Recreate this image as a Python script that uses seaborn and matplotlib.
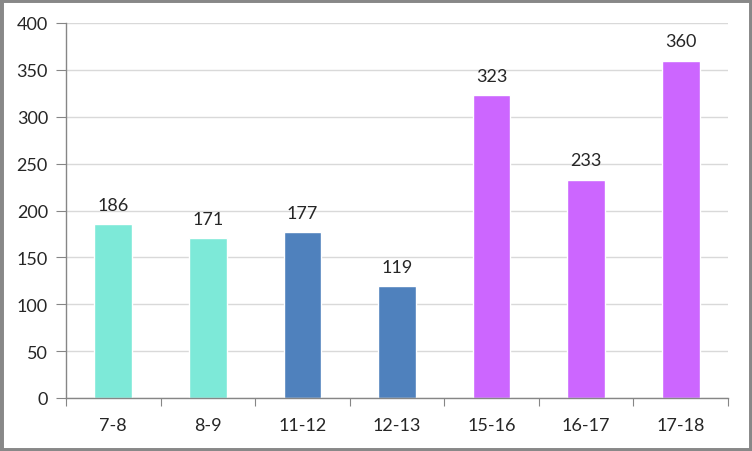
import matplotlib
matplotlib.use("Agg")
import matplotlib.pyplot as plt
import seaborn as sns
import pandas as pd
from matplotlib.patches import Rectangle

categories = ["7-8", "8-9", "11-12", "12-13", "15-16", "16-17", "17-18"]
values = [186, 171, 177, 119, 323, 233, 360]
colors = ["#7DE9D8", "#7DE9D8", "#4F81BD", "#4F81BD", "#CC66FF", "#CC66FF", "#CC66FF"]

df = pd.DataFrame({"cat": categories, "val": values})

sns.set_style("white")
plt.rcParams["font.family"] = ["Lato", "DejaVu Sans"]

fig = plt.figure(figsize=(7.52, 4.52), dpi=100)
ax = fig.add_axes([66/752, 1-399/452, (728-66)/752, (399-24)/452])

sns.barplot(data=df, x="cat", y="val", hue="cat", palette=dict(zip(categories, colors)),
            legend=False, width=0.4, ax=ax, saturation=1)

ax.set_ylim(0, 400)
ax.set_xlim(-0.5, len(categories) - 0.5)
ax.set_yticks(range(0, 401, 50))
ax.set_xlabel("")
ax.set_ylabel("")
ax.yaxis.grid(True, color="#D9D9D9", linewidth=1)
ax.set_axisbelow(True)
for s in ["top", "right"]:
    ax.spines[s].set_visible(False)
for s in ["left", "bottom"]:
    ax.spines[s].set_color("#868686")
    ax.spines[s].set_linewidth(1)

ax.tick_params(axis="y", length=7, color="#868686", labelsize=13, pad=6, left=True)
ax.set_xticks([i - 0.5 for i in range(len(categories) + 1)], minor=False)
ax.set_xticklabels([])
ax.set_xticks(range(len(categories)), minor=True)
ax.set_xticklabels(categories, minor=True)
ax.tick_params(axis="x", which="major", length=6, color="#868686", bottom=True)
ax.tick_params(axis="x", which="minor", length=0, labelsize=13, pad=14)

for c in ax.containers:
    ax.bar_label(c, padding=8, fontsize=13)

fig.patches.append(Rectangle((0, 0), 1, 1, transform=fig.transFigure, fill=False,
                             edgecolor="#888888", linewidth=5, zorder=10))

fig.savefig("out.png", dpi=100)
